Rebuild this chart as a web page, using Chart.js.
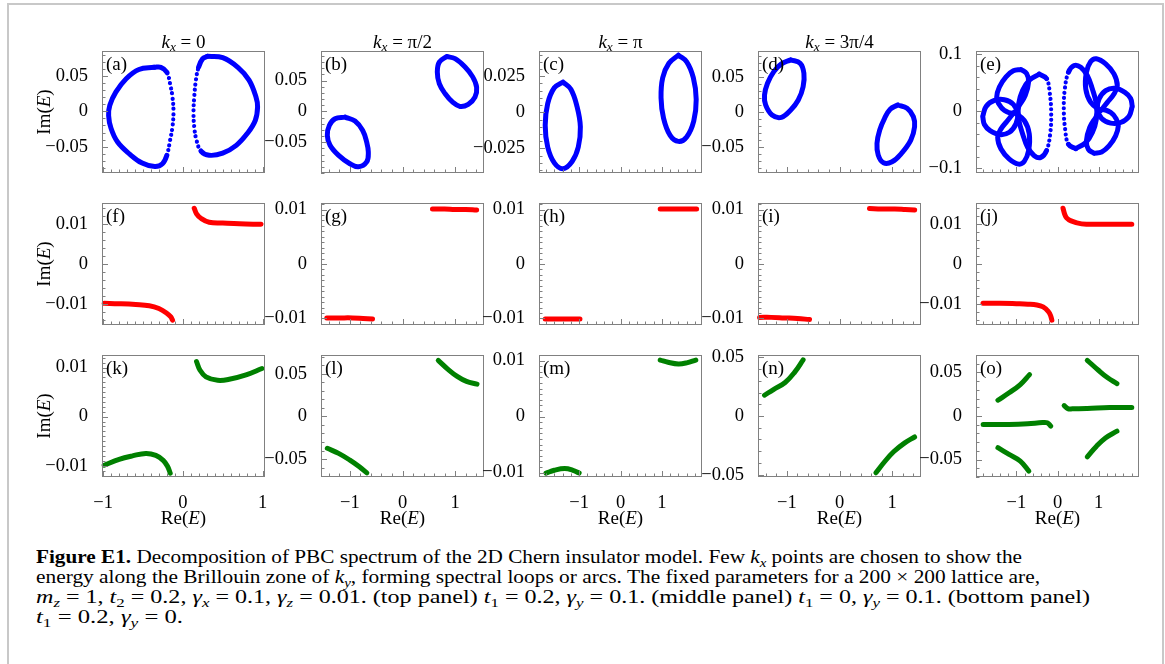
<!DOCTYPE html>
<html lang="en">
<head>
<meta charset="UTF-8">
<title>Figure E1 - PBC spectrum decomposition</title>
<script src="https://cdn.jsdelivr.net/npm/chart.js"></script>
<style>
  body { margin: 0; width: 1165px; height: 664px; position: relative; overflow: hidden; background: #fff; font-family: "Liberation Serif", serif; color: #000; }
  .frame { position: absolute; left: 7px; top: 3px; width: 1153px; height: 720px; border: 2px solid #c8c8c8; border-bottom: none; }
  canvas { position: absolute; }
  .txt { position: absolute; white-space: nowrap; font-size: 19px; line-height: 1; transform: translate(-50%, -50%); }
  .ylab { transform: translate(-50%, -50%) rotate(-90deg); }
  .plab { position: absolute; font-size: 19px; line-height: 1; }
  sub { font-size: 70%; vertical-align: -0.3em; line-height: 0; }
  .cap { position: absolute; left: 36px; top: 547px; font-size: 18px; line-height: 20px; }
  .cap div { white-space: nowrap; width: max-content; transform-origin: 0 50%; }
</style>
</head>
<body>
<div class="frame"></div>
<div class="cap">
  <div><b>Figure E1.</b> Decomposition of PBC spectrum of the 2D Chern insulator model. Few <i>k<sub>x</sub></i> points are chosen to show the</div>
  <div>energy along the Brillouin zone of <i>k<sub>y</sub></i>, forming spectral loops or arcs. The fixed parameters for a 200 × 200 lattice are,</div>
  <div><i>m<sub>z</sub></i> = 1, <i>t</i><sub>2</sub> = 0.2, <i>γ<sub>x</sub></i> = 0.1, <i>γ<sub>z</sub></i> = 0.01. (top panel) <i>t</i><sub>1</sub> = 0.2, <i>γ<sub>y</sub></i> = 0.1. (middle panel) <i>t</i><sub>1</sub> = 0, <i>γ<sub>y</sub></i> = 0.1. (bottom panel)</div>
  <div><i>t</i><sub>1</sub> = 0.2, <i>γ<sub>y</sub></i> = 0.</div>
</div>
<script>
// ---- data: [Re(E), Im(E)] ----
// top row, spectral loops
const aLeft = [[-0.36,0.062],[-0.55,0.059],[-0.71,0.046],[-0.84,0.027],[-0.915,0.0085],[-0.93,-0.006],[-0.9,-0.024],[-0.82,-0.043],[-0.67,-0.06],[-0.51,-0.073],[-0.35,-0.078],[-0.255,-0.074],[-0.2,-0.062],[-0.16,-0.041],[-0.13,-0.022],[-0.117,-0.001],[-0.13,0.02],[-0.16,0.039],[-0.2,0.055],[-0.275,0.062]];
const aRight = [[0.31,0.0775],[0.5,0.0756],[0.69,0.062],[0.83,0.044],[0.917,0.02],[0.937,0.006],[0.908,-0.013],[0.81,-0.031],[0.67,-0.048],[0.5,-0.059],[0.33,-0.062],[0.227,-0.056],[0.172,-0.041],[0.143,-0.022],[0.134,-0.001],[0.143,0.02],[0.164,0.044],[0.197,0.062],[0.247,0.074]];
const bLower = [[-1.093,-0.0093],[-0.903,-0.0157],[-0.757,-0.031],[-0.681,-0.05],[-0.65,-0.066],[-0.681,-0.082],[-0.84,-0.09],[-1.0,-0.085],[-1.22,-0.071],[-1.378,-0.055],[-1.43,-0.039],[-1.392,-0.023],[-1.283,-0.012]];
const bUpper = [[0.84,0.089],[1.0,0.0855],[1.19,0.072],[1.335,0.056],[1.41,0.039],[1.378,0.023],[1.25,0.0114],[1.093,0.008],[0.954,0.015],[0.808,0.029],[0.7,0.045],[0.662,0.064],[0.7,0.08]];
const cLeft = [[-1.39,0.021],[-1.2,0.016],[-1.05,0.004],[-0.97,-0.01],[-1.02,-0.024],[-1.17,-0.034],[-1.39,-0.039],[-1.6,-0.035],[-1.76,-0.024],[-1.82,-0.009],[-1.76,0.006],[-1.6,0.017]];
const cRight = [[1.4,0.0396],[1.6,0.035],[1.76,0.024],[1.83,0.009],[1.77,-0.006],[1.6,-0.017],[1.4,-0.0201],[1.2,-0.016],[1.04,-0.004],[0.98,0.01],[1.02,0.024],[1.17,0.034]];
const dUpper = [[-0.927,0.0743],[-0.749,0.0696],[-0.677,0.0553],[-0.692,0.0361],[-0.784,0.0171],[-0.927,0.0029],[-1.105,-0.0076],[-1.283,-0.0043],[-1.405,0.01],[-1.426,0.0243],[-1.369,0.041],[-1.249,0.0576],[-1.105,0.0686]];
const dLower = [[1.107,0.01],[1.285,0.0053],[1.405,-0.0067],[1.428,-0.021],[1.356,-0.04],[1.178,-0.059],[1.0,-0.071],[0.836,-0.0724],[0.736,-0.0614],[0.713,-0.0447],[0.765,-0.0257],[0.857,-0.009],[0.964,0.0039]];
const e1 = [[-0.888,0.0735],[-0.751,0.0665],[-0.702,0.0518],[-0.783,0.0282],[-0.928,0.0106],[-1.049,-0.0029],[-1.291,0.0018],[-1.429,0.0135],[-1.477,0.0253],[-1.412,0.0429],[-1.251,0.0606],[-1.073,0.0712]];
const e2 = [[-1.816,-0.0088],[-1.735,0.0088],[-1.533,0.0194],[-1.291,0.0206],[-1.073,0.0124],[-0.969,-0.0041],[-1.009,-0.0218],[-1.17,-0.0365],[-1.396,-0.0406],[-1.638,-0.0335],[-1.776,-0.0229]];
const e3 = [[-1.049,-0.0012],[-0.807,-0.0159],[-0.686,-0.0394],[-0.702,-0.0688],[-0.807,-0.0876],[-0.944,-0.0924],[-1.17,-0.0835],[-1.372,-0.0659],[-1.453,-0.0453],[-1.372,-0.0306],[-1.211,-0.0159]];
const e4 = [[-0.444,0.0653],[-0.266,0.0576],[-0.186,0.0312],[-0.153,-0.0041],[-0.178,-0.0394],[-0.266,-0.0688],[-0.404,-0.0806],[-0.565,-0.0776],[-0.726,-0.0629],[-0.847,-0.0394],[-0.944,-0.0129],[-0.944,0.0135],[-0.847,0.0371],[-0.686,0.0547]];
const e5 = [[0.888,-0.0735],[0.751,-0.0665],[0.702,-0.0518],[0.783,-0.0282],[0.928,-0.0106],[1.049,0.0029],[1.291,-0.0018],[1.429,-0.0135],[1.477,-0.0253],[1.412,-0.0429],[1.251,-0.0606],[1.073,-0.0712]];
const e6 = [[1.816,0.0088],[1.735,-0.0088],[1.533,-0.0194],[1.291,-0.0206],[1.073,-0.0124],[0.969,0.0041],[1.009,0.0218],[1.17,0.0365],[1.396,0.0406],[1.638,0.0335],[1.776,0.0229]];
const e7 = [[1.049,0.0012],[0.807,0.0159],[0.686,0.0394],[0.702,0.0688],[0.807,0.0876],[0.944,0.0924],[1.17,0.0835],[1.372,0.0659],[1.453,0.0453],[1.372,0.0306],[1.211,0.0159]];
const e8 = [[0.444,-0.0653],[0.266,-0.0576],[0.186,-0.0312],[0.153,0.0041],[0.178,0.0394],[0.266,0.0688],[0.404,0.0806],[0.565,0.0776],[0.726,0.0629],[0.847,0.0394],[0.944,0.0129],[0.944,-0.0135],[0.847,-0.0371],[0.686,-0.0547]];
// middle row, arcs
const fLower = [[-0.986,-0.0098],[-0.8,-0.0099],[-0.59,-0.0101],[-0.42,-0.0104],[-0.3,-0.0111],[-0.205,-0.0122],[-0.15,-0.0132],[-0.129,-0.014]];
const fUpper = [[0.143,0.0139],[0.172,0.0125],[0.227,0.0114],[0.33,0.0104],[0.5,0.0102],[0.71,0.01],[0.98,0.0099]];
const gLower = [[-1.44,-0.0099],[-1.2,-0.0099],[-0.95,-0.0099],[-0.75,-0.01],[-0.57,-0.0101]];
const gUpper = [[0.57,0.0101],[0.8,0.0101],[1.0,0.01],[1.2,0.01],[1.41,0.0099]];
const hLower = [[-1.82,-0.0101],[-1.6,-0.0101],[-1.4,-0.0101],[-1.2,-0.0101],[-0.98,-0.0101]];
const hUpper = [[0.96,0.0101],[1.2,0.0101],[1.4,0.0101],[1.6,0.0101],[1.84,0.0101]];
const iLower = [[-1.52,-0.0098],[-1.3,-0.0098],[-1.05,-0.0099],[-0.8,-0.01],[-0.57,-0.0102]];
const iUpper = [[0.57,0.0102],[0.8,0.0101],[1.05,0.0101],[1.25,0.01],[1.43,0.0099]];
const jLower = [[-1.81,-0.0098],[-1.4,-0.0098],[-1.0,-0.0099],[-0.72,-0.01],[-0.5,-0.0102],[-0.35,-0.0107],[-0.226,-0.0118],[-0.17,-0.0128],[-0.137,-0.014]];
const jUpper = [[0.134,0.0139],[0.178,0.0123],[0.22,0.0115],[0.316,0.0108],[0.587,0.01],[1.083,0.0099],[1.805,0.0099]];
// bottom row, arcs
const kLower = [[-0.986,-0.0099],[-0.798,-0.0087],[-0.631,-0.008],[-0.463,-0.0075],[-0.338,-0.0079],[-0.246,-0.0089],[-0.192,-0.0101],[-0.158,-0.0115]];
const kUpper = [[0.172,0.0112],[0.214,0.0095],[0.29,0.0081],[0.436,0.0074],[0.582,0.0076],[0.792,0.0085],[0.992,0.0098]];
const lLower = [[-1.43,-0.0374],[-1.215,-0.0433],[-1.0,-0.0512],[-0.82,-0.059],[-0.678,-0.0661]];
const lUpper = [[0.68,0.0657],[0.86,0.0555],[1.04,0.0469],[1.217,0.041],[1.417,0.0379]];
const mLower = [[-1.8,-0.0101],[-1.6,-0.0096],[-1.35,-0.0093],[-1.15,-0.0096],[-1.0,-0.0101]];
const mUpper = [[0.96,0.0101],[1.15,0.0097],[1.4,0.0094],[1.6,0.0096],[1.82,0.0101]];
const nUpper = [[-1.426,0.0177],[-1.249,0.0228],[-1.034,0.0286],[-0.855,0.0372],[-0.692,0.0478]];
const nLower = [[0.692,-0.0484],[0.857,-0.039],[1.034,-0.0303],[1.235,-0.0231],[1.428,-0.0179]];
const o1 = [[-1.447,0.0181],[-1.176,0.0266],[-0.904,0.0361],[-0.679,0.0475]];
const o2 = [[-1.447,-0.0364],[-1.176,-0.0441],[-0.904,-0.0518],[-0.696,-0.0632]];
const o3 = [[-1.807,-0.0097],[-1.176,-0.0097],[-0.723,-0.0089],[-0.362,-0.0075],[-0.25,-0.0078],[-0.163,-0.0115]];
const o4 = [[0.161,0.012],[0.25,0.0085],[0.36,0.0082],[0.723,0.0086],[1.265,0.0097],[1.805,0.0097]];
const o5 = [[0.723,0.0639],[0.994,0.0525],[1.219,0.0438],[1.444,0.0372]];
const o6 = [[0.723,-0.0468],[0.948,-0.0346],[1.173,-0.025],[1.444,-0.0174]];

// axes
const xRange = [[-1.013, 1.03], [-1.55, 1.55], [-1.97, 1.97], [-1.55, 1.55], [-1.98, 1.98]];
const xTicks = [-1, 0, 1];
const xMinor = [0.1, 0.2, 0.2, 0.2, 0.2];
const yRange = [[-0.087, 0.085], [-0.1, 0.098], [-0.042, 0.0425], [-0.087, 0.087], [-0.108, 0.106],
                [-0.0152, 0.0152], [-0.0112, 0.0112], [-0.0112, 0.0112], [-0.0112, 0.0112], [-0.0152, 0.0152],
                [-0.0123, 0.01255], [-0.071, 0.072], [-0.0108, 0.011], [-0.052, 0.052], [-0.07, 0.07]];
const yTicks = [[-0.05, 0, 0.05], [-0.05, 0, 0.05], [-0.025, 0, 0.025], [-0.05, 0, 0.05], [-0.1, 0, 0.1],
                [-0.01, 0, 0.01], [-0.01, 0, 0.01], [-0.01, 0, 0.01], [-0.01, 0, 0.01], [-0.01, 0, 0.01],
                [-0.01, 0, 0.01], [-0.05, 0, 0.05], [-0.01, 0, 0.01], [-0.05, 0, 0.05], [-0.05, 0, 0.05]];
const yMinor = [0.01, 0.01, 0.005, 0.01, 0.02,
                0.002, 0.001, 0.001, 0.001, 0.002,
                0.001, 0.01, 0.001, 0.01, 0.01];
const panelSeries = [[aLeft, aRight], [bLower, bUpper], [cLeft, cRight], [dUpper, dLower], [e1, e2, e3, e4, e5, e6, e7, e8],
                     [fLower, fUpper], [gLower, gUpper], [hLower, hUpper], [iLower, iUpper], [jLower, jUpper],
                     [kLower, kUpper], [lLower, lUpper], [mLower, mUpper], [nUpper, nLower], [o1, o2, o3, o4, o5, o6]];
// sparse (dotted) stretches of a loop: [first segment, last segment]
const dottedParts = { 0: [[12, 17], [11, 16]], 4: [null, null, null, [1, 4], null, null, null, [1, 4]] };
const panelNames = 'abcdefghijklmno'.split('');
const colTitles = ['0', 'π/2', 'π', '3π/4', ''];

// ---- layout ----
const colLeft = [102, 321, 539, 758, 976];
const rowTop = [51, 203, 355];
const boxW = 163, boxH = 122;
const rowColors = ['#0000ff', '#ff0000', '#008000'];
const FONT = { family: 'Liberation Serif', size: 18.5 };
const captionRight = [1022, 1040, 1090, 183];

const fmt = v => v === 0 ? '0' : (v < 0 ? '\u2212' + (-v) : String(v));

const frameTicks = {
  id: 'frameTicks',
  afterDatasetsDraw(chart, args, opts) {
    const { ctx, chartArea: a, scales: { x, y } } = chart;
    ctx.save();
    ctx.strokeStyle = '#808080';
    ctx.lineWidth = 1;
    ctx.strokeRect(a.left + 0.5, a.top + 0.5, a.right - a.left - 1, a.bottom - a.top - 1);
    ctx.beginPath();
    const majX = x.ticks.map(t => t.value), majY = y.ticks.map(t => t.value);
    const isMaj = (v, list, step) => list.some(m => Math.abs(m - v) < step / 10);
    for (let k = Math.ceil(x.min / opts.xStep); k * opts.xStep <= x.max; k++) {
      const v = k * opts.xStep;
      const px = Math.round(x.getPixelForValue(v)) + 0.5;
      const len = isMaj(v, majX, opts.xStep) ? 6 : 3.5;
      ctx.moveTo(px, a.bottom);
      ctx.lineTo(px, a.bottom - len);
    }
    for (let k = Math.ceil(y.min / opts.yStep); k * opts.yStep <= y.max; k++) {
      const v = k * opts.yStep;
      const py = Math.round(y.getPixelForValue(v)) + 0.5;
      const len = isMaj(v, majY, opts.yStep) ? 6 : 3.5;
      ctx.moveTo(a.left, py);
      ctx.lineTo(a.left + len, py);
    }
    ctx.stroke();
    ctx.restore();
  }
};

function addText(cls, html, left, top) {
  const d = document.createElement('div');
  d.className = cls;
  d.innerHTML = html;
  d.style.left = left + 'px';
  d.style.top = top + 'px';
  document.body.appendChild(d);
}

panelSeries.forEach((series, i) => {
  const row = Math.floor(i / 5), col = i % 5;
  const padTop = 20, padRight = 16, padBottom = row === 2 ? 0 : 20, axisW = 80;
  const xAxisH = row === 2 ? 40 : 0;
  const cv = document.createElement('canvas');
  cv.width = axisW + boxW + padRight;
  cv.height = padTop + boxH + padBottom + xAxisH;
  cv.style.left = (colLeft[col] - axisW) + 'px';
  cv.style.top = (rowTop[row] - padTop) + 'px';
  document.body.appendChild(cv);

  const color = rowColors[row];
  const closed = row === 0;
  const dots = dottedParts[i] || [];

  const datasets = series.map((pts, k) => {
    const data = pts.map(([x, y]) => ({ x, y }));
    if (closed) data.push({ x: pts[0][0], y: pts[0][1] });
    const dr = dots[k];
    const inDots = c => dr && c.p0DataIndex >= dr[0] && c.p0DataIndex <= dr[1];
    return {
      data,
      showLine: true,
      borderColor: color,
      backgroundColor: color,
      borderWidth: 5,
      borderCapStyle: 'round',
      borderJoinStyle: 'round',
      pointRadius: 0,
      tension: 0.4,
      clip: false,
      segment: {
        borderDash: c => inDots(c) ? [0.01, 5.2] : undefined,
        borderWidth: c => inDots(c) ? 4.2 : undefined
      }
    };
  });

  new Chart(cv, {
    type: 'scatter',
    data: { datasets },
    options: {
      responsive: false,
      animation: false,
      devicePixelRatio: 1,
      events: [],
      layout: { padding: { top: padTop, right: padRight, bottom: padBottom, left: 0 } },
      plugins: {
        legend: { display: false },
        tooltip: { enabled: false },
        frameTicks: { xStep: xMinor[col], yStep: yMinor[i] }
      },
      scales: {
        x: {
          type: 'linear', min: xRange[col][0], max: xRange[col][1],
          grid: { display: false }, border: { display: false },
          ticks: { display: row === 2, color: '#000', font: FONT, padding: 7, maxRotation: 0, autoSkip: false, callback: fmt },
          afterBuildTicks: s => { s.ticks = xTicks.map(v => ({ value: v })); },
          afterFit: s => { s.height = xAxisH; }
        },
        y: {
          type: 'linear', min: yRange[i][0], max: yRange[i][1],
          grid: { display: false }, border: { display: false },
          ticks: { color: '#000', font: FONT, padding: 6, autoSkip: false, callback: fmt },
          afterBuildTicks: s => { s.ticks = yTicks[i].map(v => ({ value: v })); },
          afterFit: s => { s.width = axisW; }
        }
      }
    },
    plugins: [frameTicks]
  });

  addText('plab', '(' + panelNames[i] + ')', colLeft[col] + 4, rowTop[row] + 3);
});

colTitles.forEach((t, c) => {
  if (t) addText('txt', '<i>k</i><sub><i>x</i></sub> = ' + t, colLeft[c] + boxW / 2, 41);
  addText('txt', 'Re(<i>E</i>)', colLeft[c] + boxW / 2, 517);
});
rowTop.forEach(t => addText('txt ylab', 'Im(<i>E</i>)', 43, t + boxH / 2));

// stretch each caption line to the width it has in the figure
const capLeft = document.querySelector('.cap').offsetLeft;
document.querySelectorAll('.cap div').forEach((line, k) => {
  const w = line.getBoundingClientRect().width;
  line.style.transform = 'scaleX(' + ((captionRight[k] - capLeft) / w).toFixed(4) + ')';
});
</script>
</body>
</html>
